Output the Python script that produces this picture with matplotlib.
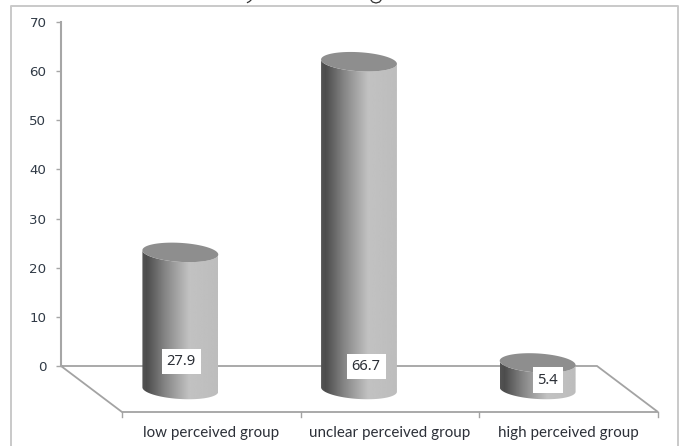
import numpy as np
import matplotlib
matplotlib.use("Agg")
import matplotlib.pyplot as plt
from matplotlib.path import Path
from matplotlib.patches import PathPatch, Rectangle
from matplotlib.lines import Line2D

categories = ["low perceived group", "unclear perceived group", "high perceived group"]
values = [27.9, 66.7, 5.4]
y_ticks = [0, 10, 20, 30, 40, 50, 60, 70]

W, H = 683, 446
AX_L, AX_R, AX_T, AX_B = 61, 597, 22, 366   # plot wall in pixels
DEPTH_X, DEPTH_Y = 61, 46                   # floor shear in pixels
BASE_DX, BASE_DY = 30, 23.5                 # cylinder base offset from the wall
RX, RY, TILT = 38.0, 9.5, np.deg2rad(3.5)

# value label centres as pixel offsets from each cylinder's base centre
label_offsets = [(1, -28), (7, -23.5), (10, -9.5)]
label_boxes = [(39, 25), (39, 25), (30, 26)]

fig = plt.figure(figsize=(W / 100, H / 100), dpi=100, facecolor="white")
ax = fig.add_axes([AX_L / W, 1 - AX_B / H, (AX_R - AX_L) / W, (AX_B - AX_T) / H])
ax.patch.set_visible(False)

px_x = (AX_R - AX_L) / 3
px_y = (AX_B - AX_T) / 70


def dx(p):
    return p / px_x


def dy(p):
    return p / px_y


def fig_stroke(xs, ys, **kw):
    """Line given in pixels from the top-left corner of the figure."""
    fig.add_artist(Line2D(np.asarray(xs) / W, 1 - np.asarray(ys) / H, **kw))


# outer chart frame, open at the bottom edge
fig_stroke([11, 11, 678, 678], [H, 6, 6, H], color="#c9c9c9", lw=1.4)

# small ink marks along the top edge of the figure
fig_stroke([251, 249.5, 247.5], [0, 1.5, 2.5], color="#333333", lw=0.9)
fig_stroke([371, 372.5, 376, 379.5, 381], [0, 2, 3, 2, 0], color="#333333", lw=0.9)

for side in ("top", "right", "bottom"):
    ax.spines[side].set_visible(False)
ax.spines["left"].set_color("#a6a6a6")
ax.spines["left"].set_linewidth(1.5)
ax.set_xticks([])
ax.set_yticks(y_ticks)
ax.tick_params(axis="y", length=3.5, width=1, color="#a6a6a6", pad=7,
               labelsize=9.6, labelcolor="#303a46")

# floor outline
floor = "#a3a3a3"
fx = [-0.5, 2.5, 2.5 + dx(DEPTH_X), -0.5 + dx(DEPTH_X), -0.5]
fy = [0, 0, -dy(DEPTH_Y), -dy(DEPTH_Y), 0]
ax.plot(fx, fy, color=floor, lw=1.3, clip_on=False, zorder=1, solid_joinstyle="miter")
for i in range(4):
    x = -0.5 + i + dx(DEPTH_X)
    ax.plot([x, x], [-dy(DEPTH_Y), -dy(DEPTH_Y + 5)], color=floor, lw=1, clip_on=False, zorder=1)

# shading across a cylinder body, dark on the left and pale on the right
stops = np.array([0.0, 0.06, 0.30, 0.62, 1.0])
shades = np.array([0.33, 0.30, 0.52, 0.76, 0.74])
grad = np.interp(np.linspace(0, 1, 256), stops, shades).reshape(1, -1)


def ellipse(cx, cy, t):
    ex = RX * np.cos(t) * np.cos(TILT) - RY * np.sin(t) * np.sin(TILT)
    ey = RX * np.cos(t) * np.sin(TILT) + RY * np.sin(t) * np.cos(TILT)
    return cx + dx(ex), cy - dy(ey)


for i, (name, v) in enumerate(zip(categories, values)):
    cx = i + dx(BASE_DX)
    cy = -dy(BASE_DY)
    top = cy + v

    # body outline: front of the base, up the right side, back along the cap
    bx, by = ellipse(cx, cy, np.linspace(np.pi, 0, 60))
    tx, ty = ellipse(cx, top, np.linspace(0, np.pi, 60))
    body = np.column_stack([np.r_[bx, tx], np.r_[by, ty]])
    path = Path(np.vstack([body, body[0]]), closed=True)
    im = ax.imshow(grad, cmap="gray", vmin=0, vmax=1, aspect="auto", zorder=3,
                   extent=[cx - dx(RX), cx + dx(RX), cy - dy(2 * RY), top + dy(2 * RY)],
                   interpolation="bilinear")
    im.set_clip_box(fig.bbox)
    im.set_clip_path(PathPatch(path, transform=ax.transData))

    # cap
    ex, ey = ellipse(cx, top, np.linspace(0, 2 * np.pi, 120))
    ax.fill(ex, ey, color="#8e8e8e", zorder=4, clip_on=False, lw=0)

    # value label on a white box
    ox, oy = label_offsets[i]
    bw, bh = label_boxes[i]
    lx, ly = cx + dx(ox), cy - dy(oy)
    ax.add_patch(Rectangle((lx - dx(bw / 2), ly - dy(bh / 2)), dx(bw), dy(bh),
                           fc="white", ec="none", zorder=5, clip_on=False))
    ax.text(lx, ly, f"{v}", ha="center", va="center", fontsize=10.6,
            family="Noto Sans", color="#2b2f36", zorder=6, clip_on=False)

    # category label under the front edge of the floor
    ax.text(i + dx(DEPTH_X), -dy(433 - AX_B), name, ha="center", va="center",
            fontsize=10.9, family="Lato", color="#2c3038", clip_on=False)

ax.set_xlim(-0.5, 2.5)
ax.set_ylim(0, 70)
fig.savefig("out.png", dpi=100)
